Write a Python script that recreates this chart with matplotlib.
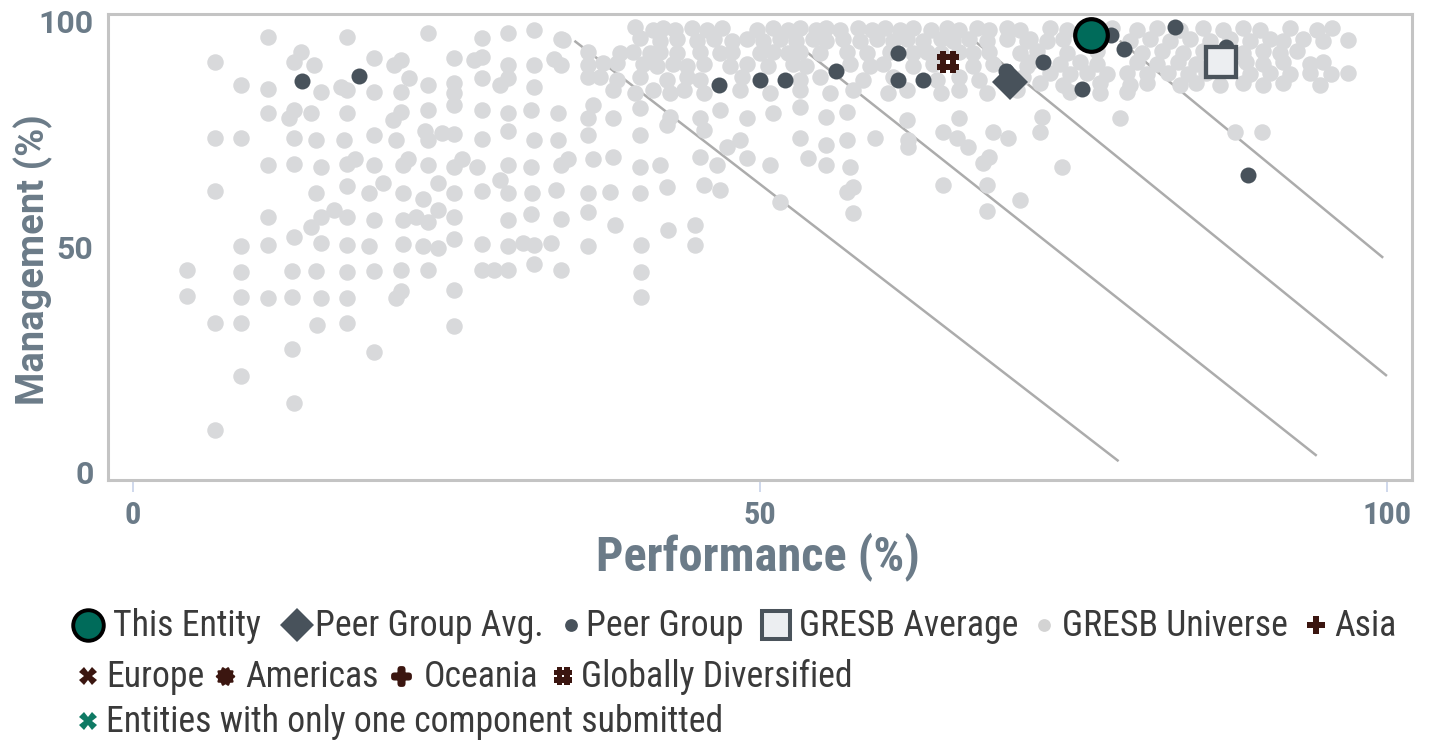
import numpy as np
import matplotlib
matplotlib.use('Agg')
import matplotlib.pyplot as plt
from matplotlib.path import Path
from matplotlib.lines import Line2D
from matplotlib import font_manager

W, H, DPI = 1443, 747, 100

# ---------------- data ----------------
x_ticks = [0, 50, 100]
y_ticks = [0, 50, 100]
x_label = "Performance (%)"
y_label = "Management (%)"

# GRESB Universe (performance, management)
universe_perf = [
    # left block, rows from top
    10.8, 17.1, 23.5, 27.8, 29.9, 32.0, 34.1,
    6.5, 12.8, 13.4, 14.4, 19.2, 21.4, 20.8, 25.6, 27.8, 27.2, 29.9, 32.0, 33.6, 36.3, 36.3,
    8.6, 10.8, 15.0, 16.6, 17.1, 19.2, 21.4, 22.0, 23.5, 25.6, 25.6, 27.8, 29.3, 29.9, 32.0, 36.3,
    10.8, 12.8, 12.4, 14.2, 17.1, 21.4, 20.7, 23.5, 25.6, 27.8, 29.9, 31.7, 33.9, 36.3, 36.7,
    6.5, 8.6, 12.8, 14.6, 16.8, 19.2, 21.0, 23.3, 23.5, 24.6, 25.6, 27.8, 29.9, 32.0, 33.9, 36.3,
    10.8, 12.8, 15.0, 17.1, 17.7, 19.2, 21.5, 21.9, 23.5, 25.6, 26.2, 27.4, 29.9, 31.7, 34.1, 34.7, 36.7,
    6.5, 14.6, 17.1, 18.8, 19.9, 21.5, 23.1, 24.3, 25.6, 27.8, 29.3, 29.9, 31.8, 33.7, 36.3,
    10.8, 14.2, 15.0, 16.0, 17.1, 19.2, 21.5, 22.6, 23.5, 24.3, 25.6, 29.9, 31.7, 34.1, 36.3,
    8.6, 10.8, 12.8, 15.0, 17.1, 18.8, 21.5, 23.1, 24.3, 25.6, 27.8, 29.9, 31.1, 32.0, 33.3, 36.3,
    4.3, 4.3, 6.5, 6.5, 8.6, 8.6, 8.6, 8.6, 10.8, 12.7, 12.7, 12.7, 12.8, 14.6, 15.0, 14.7,
    17.1, 17.1, 17.1, 19.2, 19.2, 21.4, 21.4, 21.0, 23.5, 25.6, 25.6, 27.8, 28.8, 29.9, 32.0, 34.1,
    # middle block, top band
    40.0, 41.5, 42.3, 43.2, 44.6, 45.8, 47.0, 49.8, 51.0, 52.2, 53.2, 54.5, 55.3, 56.4, 57.8, 58.9,
    60.0, 61.2, 62.2, 63.6, 64.9, 65.9, 67.3, 68.3, 69.7, 70.7,
    34.3, 40.4, 42.0, 43.4, 45.0, 46.3, 47.8, 49.0, 50.2, 51.6, 52.9, 54.2, 55.3, 56.6, 58.0, 59.3,
    60.6, 61.7, 63.0, 64.4, 65.4, 66.7, 68.1, 69.7, 71.3,
    38.8, 39.9, 41.2, 42.0, 43.4, 45.2, 46.8, 47.8, 50.0, 51.0, 52.2, 53.2, 54.8, 56.9, 58.5, 60.4,
    62.2, 63.3, 64.4, 65.9, 67.0, 68.3, 70.7,
    34.1, 37.5, 38.6, 40.7, 41.8, 43.1, 44.2, 45.5, 47.6, 49.0, 50.6, 52.6, 53.7, 57.2, 58.8, 59.8,
    62.2, 63.8, 67.0, 68.6, 71.3,
    37.2, 38.6, 40.4, 42.6, 44.2, 45.2, 48.6, 53.2, 54.8, 58.2, 60.6, 64.1, 65.9, 67.5, 71.0,
    38.3, 40.0, 41.5, 42.8, 43.9, 45.5, 48.4, 50.8, 53.2, 55.6, 57.4, 60.2, 61.7, 64.4, 65.9, 68.1, 70.5,
    # middle block, lower scatter
    38.3, 40.4, 42.8, 45.2, 46.8, 49.0, 51.0, 53.2, 55.3, 56.9, 61.7, 65.9,
    40.4, 42.6, 45.5, 47.4, 48.4, 53.2, 55.3, 56.9, 59.2, 61.8, 61.8, 64.6, 65.7, 66.6, 68.6, 69.8,
    38.3, 40.4, 42.0, 45.2, 46.6, 49.0, 50.8, 53.8, 55.3, 57.2, 67.8, 68.3,
    38.0, 40.4, 42.6, 45.5, 46.8, 51.6, 56.9, 57.4, 64.6, 68.1, 70.7,
    38.4, 40.5, 42.7, 44.8, 44.8, 40.5, 40.5, 57.4, 68.1,
    # right block
    73.1, 74.5, 78.1, 80.1, 81.7, 83.5, 85.3, 86.9, 88.5, 89.9, 92.3, 94.4, 95.6,
    71.5, 72.9, 74.2, 79.5, 81.1, 82.7, 84.3, 85.9, 87.5, 89.1, 90.7, 91.7, 93.3, 94.9, 96.9,
    72.1, 74.5, 76.9, 80.5, 82.1, 83.7, 85.3, 88.5, 90.1, 91.5, 92.8,
    71.5, 73.9, 75.5, 76.9, 80.1, 81.7, 83.3, 84.8, 88.8, 90.1, 91.7, 93.9, 94.9,
    73.1, 74.7, 76.1, 77.7, 79.3, 80.9, 82.5, 84.1, 85.6, 89.1, 90.7, 92.3, 93.9, 95.5, 96.9,
    72.3, 74.2, 77.1, 79.5, 80.9, 83.5, 84.8, 86.7, 88.5, 90.1, 91.7, 94.7,
    74.7, 77.1, 79.3,
    72.5, 72.3, 78.7, 87.9, 90.0, 74.1,
]
universe_mgmt = [
    96.5, 96.5, 97.3, 96.2, 97.4, 97.9, 96.0,
    90.8, 91.0, 93.2, 90.2, 91.7, 91.4, 90.2, 91.7, 92.1, 91.4, 90.2, 90.2, 91.6, 93.2, 90.2,
    85.8, 84.9, 84.3, 85.4, 84.7, 84.3, 84.3, 87.3, 85.8, 86.2, 84.0, 87.3, 85.8, 87.3, 85.4, 87.6,
    79.7, 80.3, 78.4, 79.5, 79.7, 79.9, 78.0, 80.3, 81.4, 80.3, 79.5, 80.3, 79.5, 78.4, 81.4,
    74.1, 74.1, 74.1, 73.6, 73.6, 74.7, 73.6, 75.5, 73.6, 75.2, 74.9, 73.8, 75.5, 73.6, 73.6, 74.7,
    68.1, 68.2, 67.7, 68.2, 69.5, 68.1, 68.1, 69.5, 68.1, 67.7, 69.5, 67.7, 68.1, 67.7, 68.1, 69.5, 69.5,
    62.2, 61.9, 63.4, 61.9, 64.1, 61.9, 60.5, 64.0, 61.9, 62.2, 64.7, 61.9, 61.9, 62.5, 61.9,
    56.5, 54.3, 56.5, 58.2, 56.5, 55.9, 55.9, 56.6, 55.5, 58.1, 56.5, 55.9, 57.2, 56.2, 57.7,
    50.1, 50.3, 52.0, 50.7, 50.3, 50.1, 50.5, 50.1, 49.6, 51.6, 50.5, 50.1, 50.7, 50.3, 50.7, 50.1,
    44.8, 39.0, 33.0, 9.3, 44.3, 38.8, 33.0, 21.3, 38.6, 44.6, 38.8, 27.3, 15.3, 44.6, 38.6, 32.6,
    44.3, 38.6, 33.0, 26.6, 44.6, 44.8, 40.1, 38.6, 44.8, 40.4, 32.4, 44.8, 44.8, 44.8, 46.1, 44.8,
    98.7, 98.0, 98.4, 98.0, 98.5, 98.0, 98.4, 98.0, 98.5, 98.0, 98.4, 98.0, 98.5, 98.0, 98.4, 98.0,
    98.5, 98.0, 98.4, 98.0, 98.5, 98.0, 98.4, 98.0, 98.5, 98.0,
    95.8, 96.2, 95.6, 96.0, 95.6, 96.0, 95.6, 96.0, 95.6, 96.0, 95.6, 96.0, 95.6, 96.0, 95.6, 96.0,
    95.6, 96.0, 95.6, 96.0, 95.6, 96.0, 95.6, 96.0, 95.6,
    92.9, 93.2, 92.8, 93.2, 92.8, 93.2, 92.8, 93.2, 92.8, 93.2, 92.8, 93.2, 92.8, 93.2, 92.8, 93.2,
    92.8, 93.2, 92.8, 93.2, 92.8, 93.2, 92.8,
    90.2, 90.7, 90.7, 90.5, 90.0, 90.5, 90.0, 90.5, 90.0, 90.5, 90.0, 90.5, 90.0, 90.5, 90.0, 90.5,
    90.0, 90.5, 90.0, 90.5, 90.0,
    87.6, 87.0, 87.6, 87.0, 87.6, 87.0, 87.6, 87.0, 87.6, 87.0, 87.6, 87.0, 87.6, 87.0, 87.6,
    84.6, 84.0, 84.6, 84.0, 84.6, 84.0, 84.6, 84.0, 84.6, 84.0, 84.6, 84.0, 84.6, 84.0, 84.6, 84.0, 84.6,
    78.5, 80.7, 78.7, 78.5, 80.3, 78.5, 79.6, 80.9, 78.7, 79.8, 78.0, 78.5,
    74.7, 76.9, 75.8, 72.1, 73.6, 74.1, 72.5, 73.6, 74.1, 73.6, 72.1, 75.4, 74.1, 72.1, 75.4, 74.1,
    69.8, 67.6, 68.1, 69.8, 68.1, 69.6, 68.1, 69.6, 68.1, 67.6, 68.5, 69.8,
    62.1, 61.9, 63.2, 63.6, 62.5, 59.9, 62.1, 63.2, 63.6, 63.6, 60.3,
    54.8, 50.3, 53.7, 54.8, 50.3, 44.3, 38.8, 57.4, 57.9,
    98.4, 98.0, 98.4, 98.0, 98.4, 98.0, 98.4, 98.0, 98.4, 98.0, 98.4, 98.0, 98.4,
    96.0, 95.6, 96.0, 95.6, 96.0, 95.6, 96.0, 95.6, 96.0, 95.6, 96.0, 95.6, 96.0, 95.6, 95.8,
    93.4, 93.0, 93.4, 93.0, 93.4, 93.0, 93.4, 93.0, 93.4, 93.0, 93.4,
    90.8, 90.4, 90.8, 90.4, 90.8, 90.4, 90.8, 90.4, 90.8, 90.4, 90.8, 90.4, 90.8,
    88.5, 88.2, 88.5, 88.2, 88.5, 88.2, 88.5, 88.2, 88.5, 88.2, 88.5, 88.2, 88.5, 88.2, 88.5,
    86.2, 85.9, 86.2, 85.9, 86.2, 85.9, 86.2, 85.9, 86.2, 85.9, 86.2, 85.9,
    84.2, 84.0, 84.2,
    78.7, 75.4, 78.5, 75.4, 75.4, 67.6,
]

# Peer group
peer_perf = [13.5, 18.0, 46.7, 50.0, 52.0, 56.1, 61.0, 61.0, 63.0, 69.6, 72.6, 75.7, 78.0, 79.0, 83.1, 87.2, 88.9]
peer_mgmt = [86.7, 87.9, 85.8, 86.9, 86.9, 88.9, 93.0, 86.9, 86.9, 88.9, 90.8, 84.9, 97.0, 93.7, 98.7, 94.2, 65.9]

peer_avg_perf, peer_avg_mgmt = [69.9], [86.4]
gresb_avg_perf, gresb_avg_mgmt = [86.8], [91.0]
entity_perf, entity_mgmt = [76.4], [96.8]
global_div_perf, global_div_mgmt = [65.0], [91.0]

# diagonal reference lines (start / end)
line_start_perf = [35.2, 52.6, 67.1, 78.7]
line_start_mgmt = [95.6, 95.6, 95.6, 95.6]
line_end_perf = [78.6, 94.4, 100.0, 99.7]
line_end_mgmt = [2.4, 3.6, 21.3, 47.5]

legend_rows = [
    ["This Entity", "Peer Group Avg.", "Peer Group", "GRESB Average", "GRESB Universe", "Asia"],
    ["Europe", "Americas", "Oceania", "Globally Diversified"],
    ["Entities with only one component submitted"],
]

# ---------------- styling ----------------
C_UNI = '#d8d9db'
C_PEER = '#48525b'
C_BROWN = '#3b1610'
C_TEAL = '#006b5a'
C_TEAL_X = '#0f7a64'
C_AXTXT = '#6b7b88'
C_LEG = '#3a3a3a'

names = {f.name for f in font_manager.fontManager.ttflist}
COND_FAMILY = None
COND_STRETCH = 'normal'
for cand in ['Roboto Condensed', 'Liberation Sans Narrow', 'Open Sans Condensed',
             'Noto Sans Condensed', 'DejaVu Sans Condensed']:
    if cand in names:
        COND_FAMILY = cand
        break
if COND_FAMILY is None:
    if any(f.name == 'DejaVu Sans' and 'cond' in str(f.stretch) for f in font_manager.fontManager.ttflist):
        COND_FAMILY = 'DejaVu Sans'
        COND_STRETCH = 'condensed'
    else:
        COND_FAMILY = 'Roboto' if 'Roboto' in names else 'DejaVu Sans'

cond_kw = dict(fontfamily=[COND_FAMILY, 'DejaVu Sans'], fontstretch=COND_STRETCH)
rob_kw = dict(fontfamily=['Roboto', 'DejaVu Sans'])

fig = plt.figure(figsize=(W / DPI, H / DPI), dpi=DPI)
renderer = fig.canvas.get_renderer()


def fit_size(s, target_px, kw, base=20.0):
    t = fig.text(0, 0, s, fontsize=base, **kw)
    bb = t.get_window_extent(renderer)
    t.remove()
    return base * target_px / bb.width


def px(x, y):
    return x / W, 1 - y / H


ax = fig.add_axes([108 / W, 1 - 480 / H, (1412 - 108) / W, (480 - 14) / H])
ax.set_xlim(-2, 102)
ax.set_ylim(-1.77, 101.55)
for sp in ax.spines.values():
    sp.set_color('#c4c4c4')
    sp.set_linewidth(2.2)

# diagonal lines
for xs, ys, xe, ye in zip(line_start_perf, line_start_mgmt, line_end_perf, line_end_mgmt):
    ax.plot([xs, xe], [ys, ye], color='#acacac', lw=1.8, zorder=1, solid_capstyle='butt')

ms_dot = (16.5 / 1.389) ** 2
ax.scatter(universe_perf, universe_mgmt, s=ms_dot, c=C_UNI, linewidths=0, zorder=2)
ax.scatter(peer_perf, peer_mgmt, s=(16 / 1.389) ** 2, c=C_PEER, linewidths=0, zorder=3)


def rect_path_list(rects):
    verts, codes = [], []
    for (x0, y0, x1, y1) in rects:
        verts += [(x0, y0), (x1, y0), (x1, y1), (x0, y1), (x0, y0)]
        codes += [Path.MOVETO, Path.LINETO, Path.LINETO, Path.LINETO, Path.CLOSEPOLY]
    return Path(verts, codes)


hash_marker = rect_path_list([
    (-0.72, -1.0, -0.14, 1.0), (0.14, -1.0, 0.72, 1.0),
    (-1.0, -0.72, 1.0, -0.14), (-1.0, 0.14, 1.0, 0.72),
])
th = np.linspace(0, 2 * np.pi, 240)
r_cog = 1 + 0.1 * np.cos(10 * th)
cog_marker = Path(np.column_stack([r_cog * np.cos(th), r_cog * np.sin(th)]))
r_qf = 0.8 + 0.2 * np.cos(4 * th) - 0.06 * np.cos(8 * th)
qf_marker = Path(np.column_stack([r_qf * np.cos(th), r_qf * np.sin(th)]))

ax.plot(global_div_perf, global_div_mgmt, ls='none', marker=hash_marker, ms=15.5,
        color=C_BROWN, mew=0, zorder=4)
ax.plot(peer_avg_perf, peer_avg_mgmt, ls='none', marker='D', ms=18.4, color=C_PEER,
        mew=0, zorder=5)
ax.plot(gresb_avg_perf, gresb_avg_mgmt, ls='none', marker='s', ms=21.0,
        mfc='#eceef1', mec='#4a535b', mew=3.1, zorder=6)
ax.plot(entity_perf, entity_mgmt, ls='none', marker='o', ms=23.5,
        mfc=C_TEAL, mec='black', mew=3.0, zorder=7)

# ticks
ax.set_xticks(x_ticks)
ax.set_yticks(y_ticks)
xt_size = fit_size('100', 49, dict(fontweight='bold', **cond_kw))
yt_size = fit_size('100', 55, dict(fontweight='bold', **rob_kw))
ax.set_xticklabels([str(v) for v in x_ticks], fontsize=xt_size, fontweight='bold',
                   color=C_AXTXT, **cond_kw)
ax.set_yticklabels([str(v) for v in y_ticks], fontsize=yt_size, fontweight='bold',
                   color=C_AXTXT, **rob_kw)
ax.tick_params(axis='x', length=8.5, width=1.3, color='#ccd6eb', pad=6)
ax.tick_params(axis='y', length=0, pad=10.5)

# axis labels
xl_size = fit_size(x_label, 323, dict(fontweight='bold', **cond_kw))
fig.text(*px(758, 557), x_label, ha='center', va='center', fontsize=xl_size,
         fontweight='bold', color=C_AXTXT, **cond_kw)
yl_size = fit_size(y_label, 290, dict(fontweight='bold', **rob_kw))
fig.text(*px(33, 260), y_label, ha='center', va='center', rotation=90, fontsize=yl_size,
         fontweight='bold', color=C_AXTXT, **rob_kw)

# legend (flow layout)
leg_size = fit_size(legend_rows[2][0], 616, cond_kw)

marker_specs = {
    "This Entity": dict(marker='o', ms=22, mfc=C_TEAL, mec='black', mew=2.8),
    "Peer Group Avg.": dict(marker='D', ms=17.5, mfc=C_PEER, mec=C_PEER, mew=0),
    "Peer Group": dict(marker='o', ms=9.2, mfc=C_PEER, mec=C_PEER, mew=0),
    "GRESB Average": dict(marker='s', ms=19.5, mfc='#eceef1', mec='#4a535b', mew=2.9),
    "GRESB Universe": dict(marker='o', ms=9.2, mfc='#d3d3d3', mec='#d3d3d3', mew=0),
    "Asia": dict(marker='P', ms=13, mfc=C_BROWN, mec=C_BROWN, mew=0),
    "Europe": dict(marker='X', ms=12.5, mfc=C_BROWN, mec=C_BROWN, mew=0),
    "Americas": dict(marker=cog_marker, ms=14, mfc=C_BROWN, mec=C_BROWN, mew=0),
    "Oceania": dict(marker=qf_marker, ms=15, mfc=C_BROWN, mec=C_BROWN, mew=0),
    "Globally Diversified": dict(marker=hash_marker, ms=13, mfc=C_BROWN, mec=C_BROWN, mew=0),
    "Entities with only one component submitted": dict(marker='X', ms=12.5, mfc=C_TEAL_X,
                                                         mec=C_TEAL_X, mew=0),
}
gap_before = {"Peer Group Avg.": 36, "Peer Group": 27, "GRESB Average": 32,
              "GRESB Universe": 26, "Asia": 28, "Americas": 21, "Oceania": 22,
              "Globally Diversified": 25}
gap_after = {"This Entity": 25, "Peer Group Avg.": 18, "Peer Group": 16, "GRESB Average": 23,
             "GRESB Universe": 18, "Asia": 18, "Europe": 18, "Americas": 20, "Oceania": 23,
             "Globally Diversified": 18, "Entities with only one component submitted": 18}
row_y = [625, 676, 721]

for row, yy in zip(legend_rows, row_y):
    x = None
    for name in row:
        mx = 88 if x is None else x + gap_before[name]
        fig.add_artist(Line2D([mx / W], [1 - yy / H], transform=fig.transFigure,
                              ls='none', **marker_specs[name]))
        tx = mx + gap_after[name]
        t = fig.text(tx / W, 1 - (yy + 1) / H, name, ha='left', va='center',
                     fontsize=leg_size, color=C_LEG, **cond_kw)
        bb = t.get_window_extent(renderer)
        x = tx + bb.width

fig.savefig('out.png', dpi=DPI)
